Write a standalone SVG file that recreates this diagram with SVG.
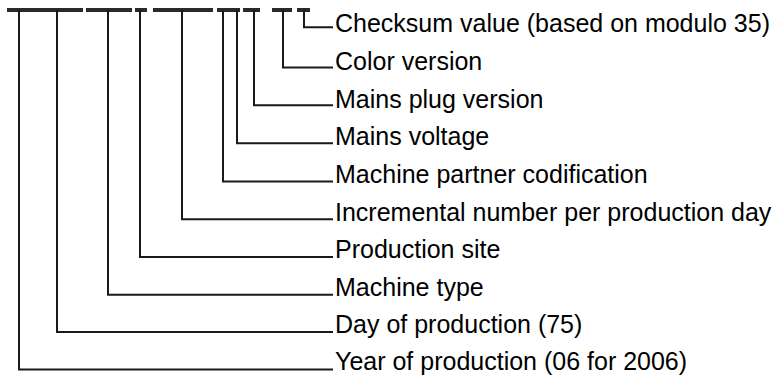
<svg xmlns="http://www.w3.org/2000/svg" width="777" height="375" viewBox="0 0 777 375">
<style>
.bar{fill:#2a2a2a}
.ln{fill:none;stroke:#1a1a1a;stroke-width:2}
.lbl{font-family:"Liberation Sans",Arial,sans-serif;font-size:25px;fill:#000}
</style>
<rect width="777" height="375" fill="#fff"/>
<g id="bars">
<rect class="bar" x="7" y="8" width="76" height="4"/>
<rect class="bar" x="86" y="8" width="46" height="4"/>
<rect class="bar" x="135" y="8" width="12" height="4"/>
<rect class="bar" x="153" y="8" width="60" height="4"/>
<rect class="bar" x="217" y="8" width="23" height="4"/>
<rect class="bar" x="243" y="8" width="17" height="4"/>
<rect class="bar" x="272" y="8" width="20" height="4"/>
<rect class="bar" x="297" y="8" width="13" height="4"/>
</g>
<g id="connectors">
<path class="ln" d="M304,10 V27.3 H333"/>
<path class="ln" d="M283,10 V67.5 H333"/>
<path class="ln" d="M254,10 V105.3 H333"/>
<path class="ln" d="M237,10 V143.3 H333"/>
<path class="ln" d="M223,10 V181.5 H333"/>
<path class="ln" d="M182,10 V219.3 H333"/>
<path class="ln" d="M140,10 V257 H333"/>
<path class="ln" d="M108,10 V294.7 H333"/>
<path class="ln" d="M57,10 V332 H333"/>
<path class="ln" d="M19,10 V369.5 H333"/>
</g>
<g id="n-checksum"><text class="lbl" x="335" y="32">Checksum value (based on modulo 35)</text></g>
<g id="n-color"><text class="lbl" x="335" y="70">Color version</text></g>
<g id="n-plug"><text class="lbl" x="335" y="107.5">Mains plug version</text></g>
<g id="n-voltage"><text class="lbl" x="335" y="145">Mains voltage</text></g>
<g id="n-partner"><text class="lbl" x="335" y="183">Machine partner codification</text></g>
<g id="n-incremental"><text class="lbl" x="335" y="221">Incremental number per production day</text></g>
<g id="n-site"><text class="lbl" x="335" y="258">Production site</text></g>
<g id="n-type"><text class="lbl" x="335" y="295.5">Machine type</text></g>
<g id="n-day"><text class="lbl" x="335" y="333">Day of production (75)</text></g>
<g id="n-year"><text class="lbl" x="335" y="370">Year of production (06 for 2006)</text></g>
</svg>
